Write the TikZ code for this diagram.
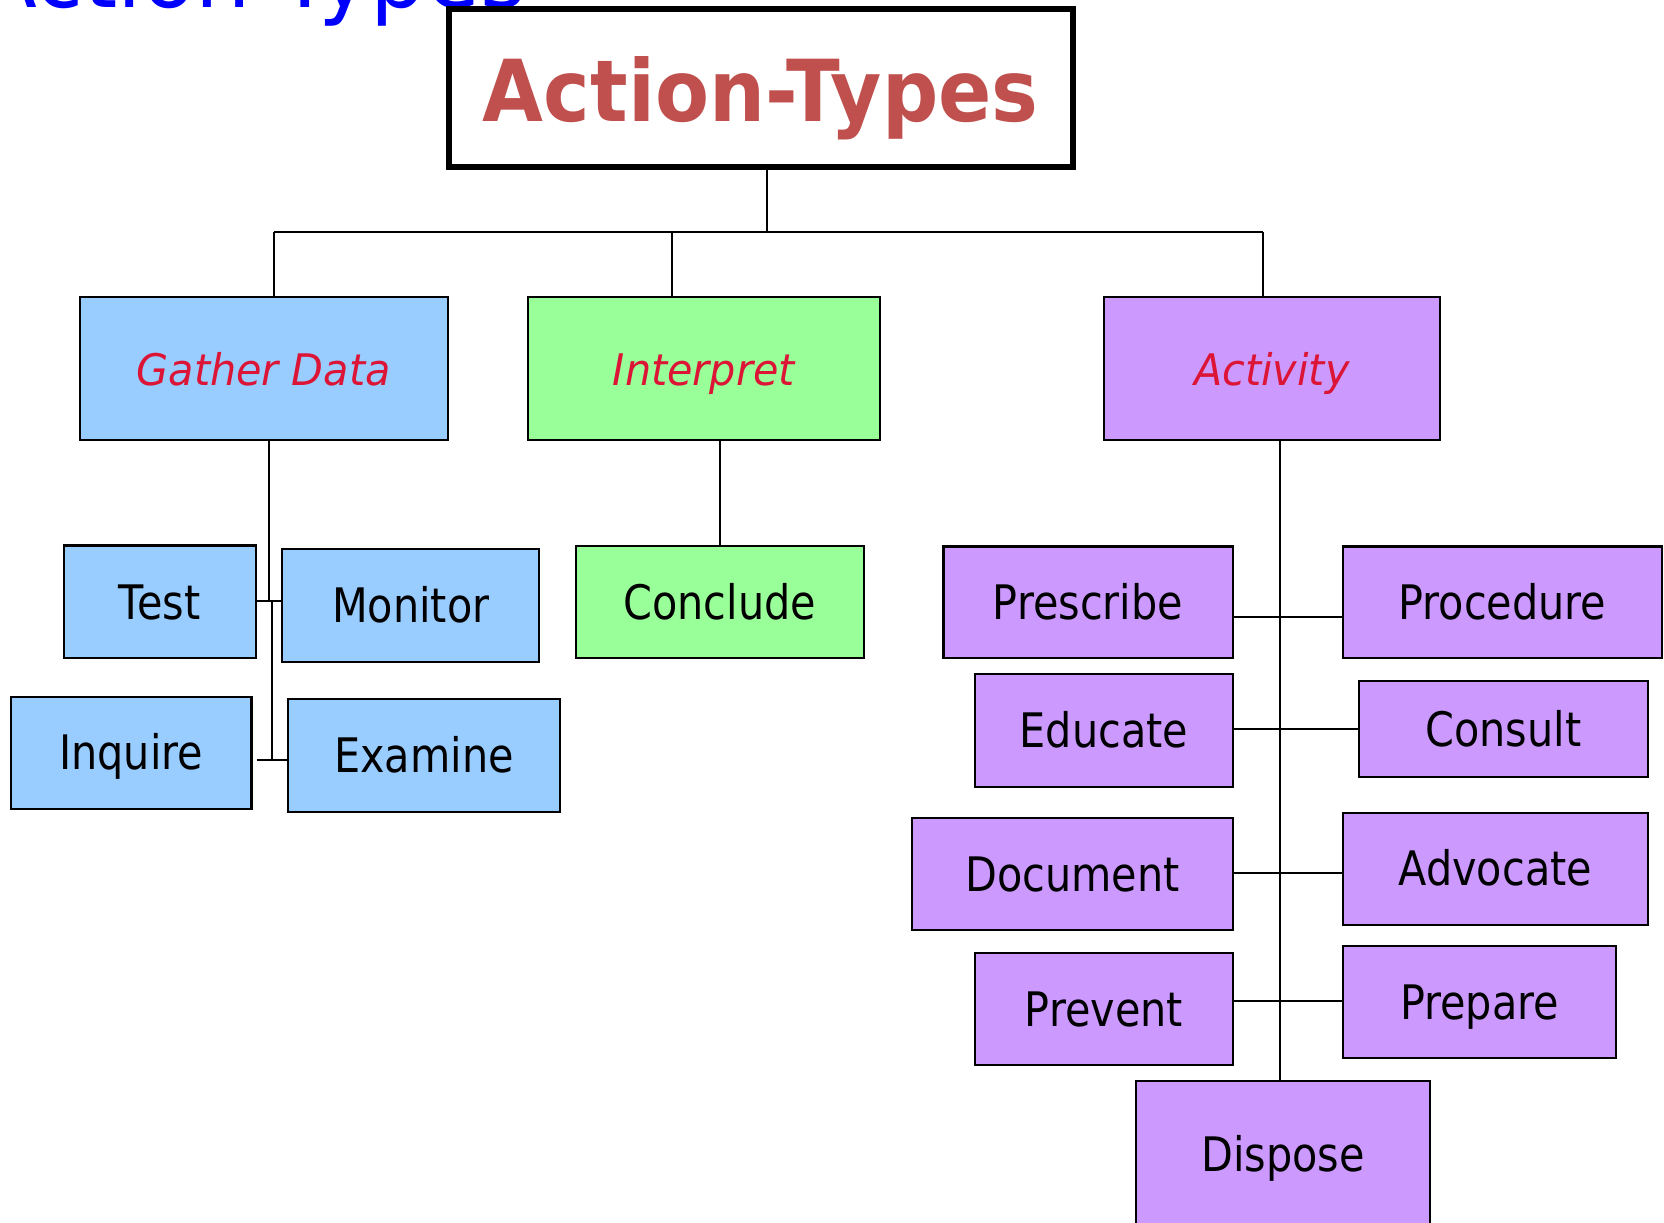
\documentclass[tikz,border=0pt]{standalone}
\usepackage{fontspec}
\setmainfont{DejaVu Sans}
\newfontfamily\boxfont{DejaVu Sans}[FakeStretch=0.87]
\newfontfamily\catfont{DejaVu Sans}[FakeStretch=0.95]
\newfontfamily\headfont{DejaVu Sans}[FakeStretch=0.92]
\newfontfamily\slidefont{DejaVu Sans}[FakeStretch=0.97]

\definecolor{gatherfill}{HTML}{99CCFF}
\definecolor{interpfill}{HTML}{99FF99}
\definecolor{activfill}{HTML}{CC99FF}
\definecolor{headred}{HTML}{C0504D}
\definecolor{catred}{HTML}{DC1436}
\definecolor{slideblue}{HTML}{0000FF}

\tikzset{
  % place a box by its left/top and right/bottom border coordinates
  corners/.style n args={4}{
    at={({(#1+#3)/2},{(#2+#4)/2})}, anchor=center,
    minimum width={(#3-#1)*0.5pt}, minimum height={(#4-#2)*0.5pt}},
  basebox/.style={draw=black, line width=1pt, inner sep=0pt,
    text height=16.3pt, text depth=0pt,
    font={\boxfont\fontsize{22.4pt}{26pt}\selectfont}},
  gbox/.style={basebox, fill=gatherfill},
  ibox/.style={basebox, fill=interpfill},
  abox/.style={basebox, fill=activfill},
  catbox/.style={text=catred, text height=15.6pt,
    font={\catfont\itshape\fontsize{20.5pt}{24pt}\selectfont}},
  link/.style={line width=1pt, draw=black},
}

\begin{document}
\begin{tikzpicture}[x=0.5pt, y=-0.5pt]
\useasboundingbox (0,0) rectangle (1568,1152);
\clip (0,0) rectangle (1568,1152);

% slide heading running off the top edge
\node[anchor=base west, inner sep=0pt, text=slideblue,
  font={\slidefont\fontsize{42.5pt}{50pt}\selectfont}] (slidetitle) at (-22,6.9) {Action Types};

% root
\node[draw=black, line width=2.8pt, inner sep=0pt, fill=white,
  text=headred, text height=31.8pt, text depth=0pt,
  font={\headfont\bfseries\fontsize{40.3pt}{46pt}\selectfont},
  corners={422.7}{8.5}{1011}{157.3}] (title) {Action-Types};

% categories
\node[gbox, catbox, corners={75}{280}{422}{415}] (gather) {Gather Data};
\node[ibox, catbox, corners={497.5}{280}{829}{415}] (interp) {Interpret};
\node[abox, catbox, corners={1040}{280}{1357}{415}] (activ) {Activity};

% gather data actions
\node[gbox, corners={60}{514}{241}{620}] (test) {Test};
\node[gbox, corners={266}{517.5}{508}{623.5}] (monitor) {Monitor};
\node[gbox, corners={10}{656.5}{237}{762}] (inquire) {Inquire};
\node[gbox, corners={271}{658.7}{528}{765}] (examine) {Examine};

% interpret actions
\node[ibox, corners={542.5}{514.5}{814}{620}] (conclude) {Conclude};

% activity actions
\node[abox, corners={889}{515}{1161.5}{620}] (prescribe) {Prescribe};
\node[abox, corners={1265.6}{515}{1566}{619.8}] (procedure) {Procedure};
\node[abox, corners={919}{635}{1161.5}{741.3}] (educate) {Educate};
\node[abox, corners={1280.6}{641.7}{1552.5}{732.2}] (consult) {Consult};
\node[abox, corners={859.5}{771}{1161.5}{876.4}] (document) {Document};
\node[abox, corners={1265.6}{765.8}{1552.5}{871.3}] (advocate) {Advocate};
\node[abox, corners={919}{898.4}{1161.5}{1003.6}] (prevent) {Prevent};
\node[abox, corners={1265.6}{891.5}{1522.9}{997}] (prepare) {Prepare};
\node[abox, corners={1070.2}{1018.7}{1347.6}{1156.5}] (dispose) {Dispose};

% junction points
\coordinate (tj) at (723,219);
\coordinate (dg) at (258,219);
\coordinate (di) at (633,219);
\coordinate (da) at (1190,219);
\coordinate (gj) at (253.5,566);
\coordinate (gs) at (256,566);
\coordinate (ge) at (256,716);
\coordinate (ij) at (678.5,415);
\coordinate (aj) at (1206,415);

% root to categories
\draw[link] (title.south -| tj) -- (tj);
\draw[link] (dg) -- (da);
\draw[link] (dg) -- (gather.north -| dg);
\draw[link] (di) -- (interp.north -| di);
\draw[link] (da) -- (activ.north -| da);

% gather data tree
\draw[link] (gather.south -| gj) -- (gj);
\draw[link] (test.east |- gj) -- (monitor.west |- gj);
\draw[link] (gs) -- (ge);
\draw[link] (test.east |- ge) -- (examine.west |- ge);

% interpret tree
\draw[link] (ij) -- (conclude.north -| ij);

% activity tree
\draw[link] (aj) -- (dispose.north -| aj);
\draw[link] (prescribe.east |- 0,581) -- (procedure.west |- 0,581);
\draw[link] (educate.east |- 0,686.7) -- (consult.west |- 0,686.7);
\draw[link] (document.east |- 0,822.4) -- (advocate.west |- 0,822.4);
\draw[link] (prevent.east |- 0,943.3) -- (prepare.west |- 0,943.3);
\end{tikzpicture}
\end{document}
